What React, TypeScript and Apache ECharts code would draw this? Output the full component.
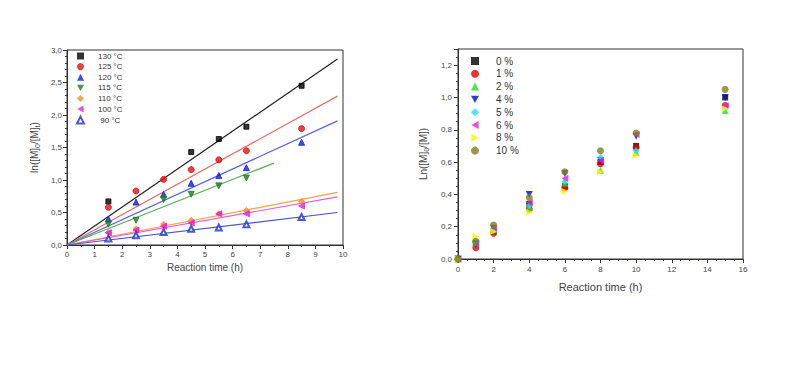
import React, { useEffect, useRef } from "react";
import * as echarts from "echarts";

const leftTimes = [1.5, 2.5, 3.5, 4.5, 5.5, 6.5, 8.5];
const leftNames = ["130 °C", "125 °C", "120 °C", "115 °C", "110 °C", "100 °C", " 90 °C"];
const v130 = [0.67, null, null, 1.43, 1.63, 1.82, 2.45];
const v125 = [0.58, 0.83, 1.01, 1.16, 1.31, 1.45, 1.79];
const v120 = [0.4, 0.66, 0.78, 0.95, 1.07, 1.19, 1.58];
const v115 = [0.32, 0.38, 0.7, 0.78, 0.91, 1.03, null];
const v110 = [0.19, 0.25, 0.32, 0.38, 0.48, 0.53, 0.67];
const v100 = [0.19, 0.23, 0.29, 0.34, 0.48, 0.48, 0.6];
const v90 = [0.1, 0.15, 0.2, 0.25, 0.27, 0.32, 0.43];
const leftValues = [v130, v125, v120, v115, v110, v100, v90];
// fitted lines: end time and end value (start at origin)
const fitEndTime = [9.8, 9.8, 9.8, 7.5, 9.8, 9.8, 9.8];
const fitEndValue = [2.86, 2.29, 1.91, 1.26, 0.81, 0.74, 0.5];

const rightTimes = [0, 1, 2, 4, 6, 8, 10, 15];
const rightNames = ["0 %", "1 %", "2 %", "4 %", "5 %", "6 %", "8 %", "10 %"];
const p0 = [0, 0.1, 0.17, 0.34, 0.45, 0.6, 0.7, 1.0];
const p1 = [0, 0.07, 0.16, 0.31, 0.44, 0.59, 0.69, 0.95];
const p2 = [0, 0.1, 0.18, 0.32, 0.47, 0.55, 0.66, 0.92];
const p4 = [0, 0.09, 0.19, 0.4, 0.53, 0.61, 0.76, 1.0];
const p5 = [0, 0.1, 0.18, 0.33, 0.48, 0.63, 0.67, 0.93];
const p6 = [0, 0.1, 0.19, 0.35, 0.5, 0.61, 0.77, 0.95];
const p8 = [0, 0.14, 0.17, 0.29, 0.42, 0.54, 0.64, 0.93];
const p10 = [0, 0.11, 0.21, 0.38, 0.54, 0.67, 0.78, 1.05];
const rightValues = [p0, p1, p2, p4, p5, p6, p8, p10];

const DOWN = "path://M0,0 L10,0 L5,9 Z";
const LEFT = "path://M9,0 L9,10 L0,5 Z";
const RIGHT = "path://M0,0 L0,10 L9,5 Z";

const leftMarkerColors = ["#000000", "#e01010", "#1020e0", "#1f7a1f", "#ff8c1a", "#e020e0", "#2030c0"];
const leftLineColors = ["#222222", "#e8705f", "#5565e0", "#5cb05c", "#f4a050", "#e060e0", "#4a55d0"];
const leftSymbols = ["rect", "circle", "triangle", DOWN, "diamond", LEFT, "emptyTriangle"];
const leftSizes = [5, 6, 6, 6, 6, 6, 6];

const rightColors = ["#000000", "#e80000", "#20e020", "#0010c0", "#20e0f0", "#e020e0", "#f5f500", "#7f7f20"];
const rightSymbols = ["rect", "circle", "triangle", DOWN, "diamond", LEFT, RIGHT, "circle"];
const rightSizes = [6, 7, 7, 7, 7, 7, 7, 7];

const FONT = "Liberation Sans, Arial, sans-serif";

export default function App() {
  const ref = useRef<HTMLDivElement>(null);
  useEffect(() => {
    if (!ref.current) return;
    const chart = echarts.init(ref.current, null, { renderer: "svg" });
    const decFmt = (v: number) => v.toFixed(1).replace(".", ",");
    const axisCommon = {
      axisLine: { show: true, onZero: false, lineStyle: { color: "#333", width: 1 } },
      axisTick: { show: true, length: 4, lineStyle: { color: "#333" } },
      minorTick: { show: true, length: 2, lineStyle: { color: "#333" } },
      splitLine: { show: false },
      minorSplitLine: { show: false },
    };
    const series: any[] = [];
    leftValues.forEach((vals, i) => {
      series.push({
        name: leftNames[i],
        type: "scatter",
        xAxisIndex: 0,
        yAxisIndex: 0,
        symbol: leftSymbols[i],
        symbolSize: leftSizes[i],
        itemStyle: { color: leftMarkerColors[i], borderColor: leftMarkerColors[i] },
        data: leftTimes.map((t, j) => [t, vals[j]]).filter((d) => d[1] !== null),
        z: 3,
      });
    });
    leftValues.forEach((_, i) => {
      series.push({
        name: "fit " + leftNames[i],
        type: "line",
        xAxisIndex: 0,
        yAxisIndex: 0,
        symbol: "none",
        lineStyle: { color: leftLineColors[i], width: 1.2 },
        data: [[0, 0], [fitEndTime[i], fitEndValue[i]]],
        z: 2,
      });
    });
    rightValues.forEach((vals, i) => {
      series.push({
        name: rightNames[i],
        type: "scatter",
        xAxisIndex: 1,
        yAxisIndex: 1,
        symbol: rightSymbols[i],
        symbolSize: rightSizes[i],
        itemStyle: { color: rightColors[i] },
        data: rightTimes.map((t, j) => [t, vals[j]]),
      });
    });
    chart.setOption({
      animation: false,
      backgroundColor: "#ffffff",
      textStyle: { fontFamily: FONT },
      grid: [
        { left: 67, top: 50, width: 276, height: 195, show: true, borderColor: "#333", borderWidth: 1 },
        { left: 458, top: 49, width: 285, height: 210, show: true, borderColor: "#333", borderWidth: 1 },
      ],
      xAxis: [
        {
          ...axisCommon,
          gridIndex: 0,
          type: "value",
          min: 0,
          max: 10,
          interval: 1,
          minorTick: { ...axisCommon.minorTick, splitNumber: 2 },
          axisLabel: { fontSize: 8, color: "#444", margin: 5, fontFamily: FONT },
          name: "Reaction time (h)",
          nameLocation: "middle",
          nameGap: 17,
          nameTextStyle: { fontSize: 10, color: "#444", fontFamily: FONT },
        },
        {
          ...axisCommon,
          gridIndex: 1,
          type: "value",
          min: 0,
          max: 16,
          interval: 2,
          minorTick: { ...axisCommon.minorTick, splitNumber: 4 },
          axisLabel: { fontSize: 8, color: "#444", margin: 6, fontFamily: FONT },
          name: "Reaction time (h)",
          nameLocation: "middle",
          nameGap: 22,
          nameTextStyle: { fontSize: 11, color: "#444", fontFamily: FONT },
        },
      ],
      yAxis: [
        {
          ...axisCommon,
          gridIndex: 0,
          type: "value",
          min: 0,
          max: 3,
          interval: 0.5,
          minorTick: { ...axisCommon.minorTick, splitNumber: 5 },
          axisLabel: { fontSize: 8, color: "#444", margin: 5, formatter: decFmt, fontFamily: FONT },
          name: "ln([M]{sub|0}/[M]{sub|t})",
          nameLocation: "middle",
          nameRotate: 90,
          nameGap: 26,
          nameTextStyle: {
            fontSize: 10,
            color: "#444",
            fontFamily: FONT,
            lineHeight: 14,
            rich: {
              sub: { fontSize: 7, color: "#444", verticalAlign: "bottom", lineHeight: 12, fontFamily: FONT },
            },
          },
        },
        {
          ...axisCommon,
          gridIndex: 1,
          type: "value",
          min: 0,
          max: 1.3,
          interval: 0.2,
          minorTick: { ...axisCommon.minorTick, splitNumber: 4 },
          axisLabel: { fontSize: 8, color: "#444", margin: 6, formatter: decFmt, showMaxLabel: false, fontFamily: FONT },
          name: "Ln([M]{sub|0}/[M])",
          nameLocation: "middle",
          nameRotate: 90,
          nameGap: 28,
          nameTextStyle: {
            fontSize: 10,
            color: "#444",
            fontFamily: FONT,
            lineHeight: 14,
            rich: {
              sub: { fontSize: 7, color: "#444", verticalAlign: "bottom", lineHeight: 12, fontFamily: FONT },
            },
          },
        },
      ],
      legend: [
        {
          data: leftNames,
          orient: "vertical",
          left: 76,
          top: 52,
          padding: 0,
          itemWidth: 7,
          itemHeight: 7,
          itemGap: 2.6,
          textStyle: { fontSize: 8, color: "#333", padding: [0, 0, 0, 9], fontFamily: FONT },
        },
        {
          data: rightNames,
          orient: "vertical",
          left: 471,
          top: 56,
          padding: 0,
          itemWidth: 8,
          itemHeight: 8,
          itemGap: 2.8,
          textStyle: { fontSize: 10, color: "#333", padding: [0, 0, 0, 12], fontFamily: FONT },
        },
      ],
      series,
    });
    return () => chart.dispose();
  }, []);
  return <div ref={ref} style={{ position: "fixed", left: 0, top: 0, width: 800, height: 383 }} />;
}
